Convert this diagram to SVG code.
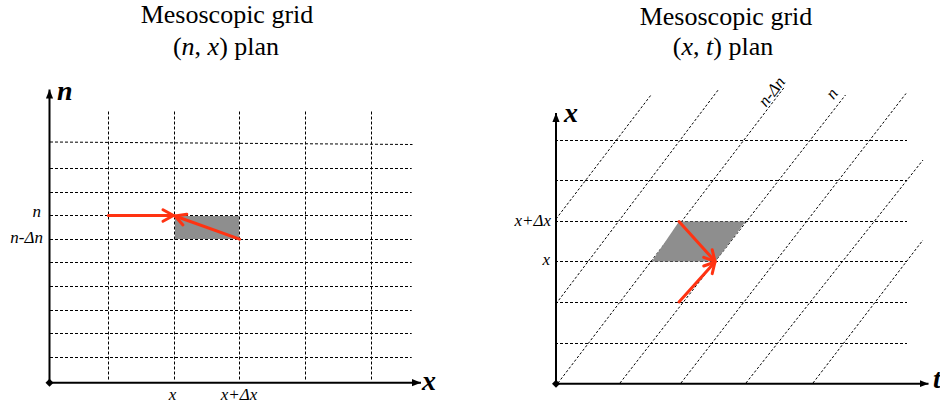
<svg xmlns="http://www.w3.org/2000/svg" width="940" height="408" viewBox="0 0 940 408">
  <defs>
    <style>
      .title { font-family: "Liberation Serif", "Times New Roman", serif; font-size: 26px; fill: #000; text-anchor: middle; }
      .it { font-style: italic; }
      .lbl { font-family: "Liberation Serif", "Times New Roman", serif; font-size: 17px; font-style: italic; fill: #000; }
      .axlbl { font-family: "Liberation Serif", "Times New Roman", serif; font-size: 28px; font-style: italic; font-weight: bold; fill: #000; }
      .grid { stroke: #000; stroke-width: 1; stroke-dasharray: 3 2; fill: none; }
      .diag { stroke: #000; stroke-width: 1; stroke-dasharray: 2.5 2; fill: none; }
      .axis { stroke: #000; stroke-width: 2; fill: none; marker-end: url(#axHead); }
      .cell { fill: #8e8e8e; stroke: none; }
      .red { stroke: #ff3312; stroke-width: 3; fill: none; stroke-linecap: round; marker-end: url(#redHead); }
    </style>
    <marker id="axHead" viewBox="0 0 10 8" refX="10" refY="4" markerWidth="9" markerHeight="8" markerUnits="userSpaceOnUse" orient="auto">
      <path d="M0,0 L10,4 L0,8 Z" fill="#000"/>
    </marker>
    <marker id="redHead" viewBox="0 0 12 13" refX="11" refY="6.5" markerWidth="12" markerHeight="13" markerUnits="userSpaceOnUse" orient="auto" overflow="visible">
      <path d="M0.5,0.8 L11,6.5 L0.5,12.2" fill="none" stroke="#ff3312" stroke-width="3" stroke-linecap="round" stroke-linejoin="round"/>
    </marker>
    <path id="diamond" d="M0,-4 L4,0 L0,4 L-4,0 Z" fill="#000"/>
  </defs>

  <!-- Titles -->
  <g id="title-left">
    <text class="title" x="227" y="23">Mesoscopic grid</text>
    <text class="title" x="226" y="55">(<tspan class="it">n</tspan>, <tspan class="it">x</tspan>) plan</text>
  </g>
  <g id="title-right">
    <text class="title" x="726" y="24.5">Mesoscopic grid</text>
    <text class="title" x="723" y="55">(<tspan class="it">x</tspan>, <tspan class="it">t</tspan>) plan</text>
  </g>

  <!-- Left panel: (n, x) plan -->
  <g id="left-grid">
    <line class="grid" x1="108.5" y1="111.5" x2="108.5" y2="381"/>
    <line class="grid" x1="174.5" y1="111.5" x2="174.5" y2="381"/>
    <line class="grid" x1="239.5" y1="111.5" x2="239.5" y2="381"/>
    <line class="grid" x1="305.5" y1="111.5" x2="305.5" y2="381"/>
    <line class="grid" x1="371.5" y1="111.5" x2="371.5" y2="381"/>
    <line class="grid" x1="50" y1="142" x2="412.5" y2="144.5"/>
    <line class="grid" x1="50" y1="168.5" x2="411.7" y2="168.5"/>
    <line class="grid" x1="50" y1="192.5" x2="411.7" y2="192.5"/>
    <line class="grid" x1="50" y1="215.5" x2="411.7" y2="215.5"/>
    <line class="grid" x1="50" y1="239.5" x2="411.7" y2="239.5"/>
    <line class="grid" x1="50" y1="262.5" x2="411.7" y2="262.5"/>
    <line class="grid" x1="50" y1="286.5" x2="411.7" y2="286.5"/>
    <line class="grid" x1="50" y1="310.5" x2="411.7" y2="310.5"/>
    <line class="grid" x1="50" y1="333.5" x2="411.7" y2="333.5"/>
    <line class="grid" x1="50" y1="357.5" x2="411.7" y2="357.5"/>
  </g>
  <g id="left-cell">
    <rect class="cell" x="175" y="216" width="64" height="23"/>
  </g>
  <g id="left-axes">
    <line class="axis" x1="49.5" y1="382.7" x2="49.5" y2="89.5"/>
    <line class="axis" x1="49.5" y1="382.7" x2="421" y2="382.7"/>
    <use href="#diamond" x="49.5" y="382.7"/>
    <text class="axlbl" x="57" y="100">n</text>
    <text class="axlbl" x="422" y="390">x</text>
  </g>
  <g id="left-labels">
    <text class="lbl" x="41" y="216.7" text-anchor="end">n</text>
    <text class="lbl" x="43" y="243.3" text-anchor="end">n-Δn</text>
    <text class="lbl" x="172.5" y="400" text-anchor="middle">x</text>
    <text class="lbl" x="239" y="400" text-anchor="middle">x+Δx</text>
  </g>

  <!-- Right panel: (x, t) plan -->
  <g id="right-grid">
    <line class="grid" x1="555" y1="140.5" x2="907" y2="140.5"/>
    <line class="grid" x1="555" y1="180.5" x2="907" y2="180.5"/>
    <line class="grid" x1="555" y1="221.5" x2="907" y2="221.5"/>
    <line class="grid" x1="555" y1="261.5" x2="907" y2="261.5"/>
    <line class="grid" x1="555" y1="302.5" x2="907" y2="302.5"/>
    <line class="grid" x1="555" y1="343.5" x2="907" y2="343.5"/>
    <line class="diag" x1="556" y1="219" x2="651" y2="95"/>
    <line class="diag" x1="556" y1="303.8" x2="718.5" y2="89.5"/>
    <line class="diag" x1="558" y1="383" x2="784.5" y2="87"/>
    <line class="diag" x1="620" y1="383" x2="845.5" y2="95"/>
    <line class="diag" x1="681" y1="383" x2="906" y2="93.5"/>
    <line class="diag" x1="746" y1="383" x2="923" y2="160"/>
    <line class="diag" x1="813" y1="383" x2="923" y2="240"/>
  </g>
  <g id="right-cell">
    <polygon class="cell" points="651.8,261.5 679,221.5 745.5,221.5 715.5,261.5"/>
  </g>
  <g id="right-axes">
    <line class="axis" x1="556" y1="383.7" x2="556" y2="113"/>
    <line class="axis" x1="556" y1="383.7" x2="928.5" y2="383.7"/>
    <use href="#diamond" x="556" y="383.7"/>
    <text class="axlbl" x="564" y="121.5">x</text>
    <text class="axlbl" x="933" y="388">t</text>
  </g>
  <g id="right-labels">
    <text class="lbl" x="551" y="226" text-anchor="end">x+Δx</text>
    <text class="lbl" x="550" y="265" text-anchor="end">x</text>
    <text class="lbl" x="786" y="82" text-anchor="end" transform="rotate(-52.4 786 82)">n-Δn</text>
    <text class="lbl" x="836" y="97" text-anchor="middle" transform="rotate(-52.4 836 97)">n</text>
  </g>

  <!-- Connectors (red arrows) -->
  <g id="connectors">
    <line class="red" x1="108.3" y1="215.5" x2="173.5" y2="215.5"/>
    <line class="red" x1="239.5" y1="239.2" x2="175" y2="216"/>
    <line class="red" x1="679" y1="221.5" x2="715" y2="261.3"/>
    <line class="red" x1="679" y1="302" x2="715" y2="262"/>
  </g>
</svg>
